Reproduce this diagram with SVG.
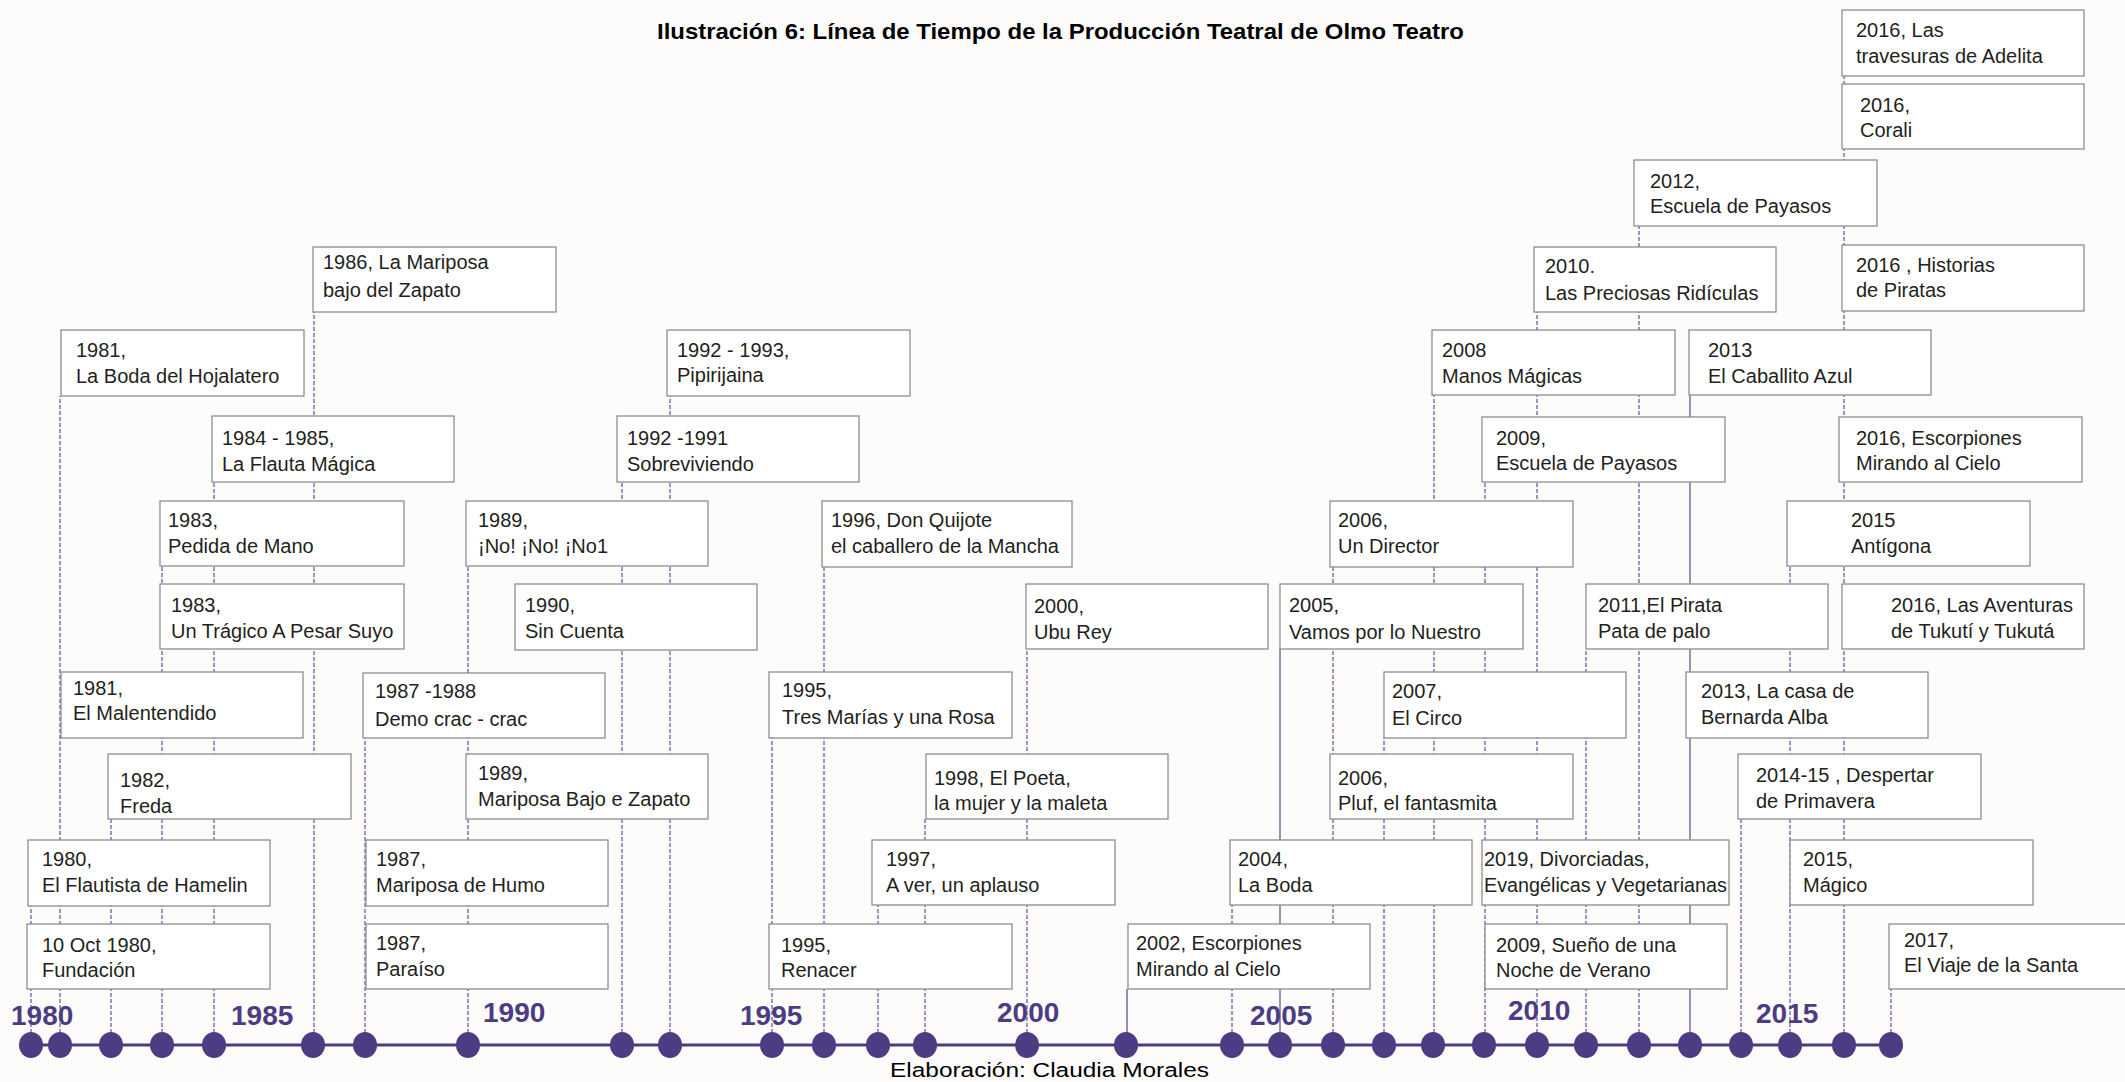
<svg xmlns="http://www.w3.org/2000/svg" width="2125" height="1082" viewBox="0 0 2125 1082">
<style>
.bg{fill:#fdfcfb}
.box{fill:#ffffff;stroke:#8e8e8e;stroke-width:1.3}
.t{font-family:"Liberation Sans",Arial,sans-serif;font-size:20px;fill:#231f20}
.yr{font-family:"Liberation Sans",Arial,sans-serif;font-size:28px;font-weight:bold;fill:#4b3c84}
.dl{stroke:#5a51a6;stroke-width:1.2;stroke-dasharray:4 2;fill:none}
.sl{stroke:#5f5a8e;stroke-width:1.3;fill:none}
.dot{fill:#4b3c84}
.axis{stroke:#4b3c84;stroke-width:3}
.title{font-family:"Liberation Sans",Arial,sans-serif;font-size:22px;font-weight:bold;fill:#000}
.foot{font-family:"Liberation Sans",Arial,sans-serif;font-size:19.5px;fill:#000}
</style>
<rect class="bg" x="0" y="0" width="2125" height="1082"/>
<text class="title" x="657" y="39" textLength="807" lengthAdjust="spacingAndGlyphs">Ilustración 6: Línea de Tiempo de la Producción Teatral de Olmo Teatro</text>

<g id="connectors">
<line class="dl" x1="31" y1="1045" x2="31" y2="906"/>
<line class="dl" x1="60" y1="1045" x2="60" y2="396"/>
<line class="dl" x1="111" y1="1045" x2="111" y2="819"/>
<line class="dl" x1="162" y1="1045" x2="162" y2="566"/>
<line class="dl" x1="214" y1="1045" x2="214" y2="482"/>
<line class="dl" x1="314" y1="1045" x2="314" y2="312"/>
<line class="dl" x1="365" y1="1045" x2="365" y2="738"/>
<line class="dl" x1="468" y1="1045" x2="468" y2="566"/>
<line class="dl" x1="622" y1="1045" x2="622" y2="482"/>
<line class="dl" x1="670" y1="1045" x2="670" y2="396"/>
<line class="dl" x1="772" y1="1045" x2="772" y2="738"/>
<line class="dl" x1="824" y1="1045" x2="824" y2="567"/>
<line class="dl" x1="878" y1="1045" x2="878" y2="905"/>
<line class="dl" x1="925" y1="1045" x2="925" y2="819"/>
<line class="dl" x1="1027" y1="1045" x2="1027" y2="649"/>
<line class="sl" x1="1127" y1="1045" x2="1127" y2="989"/>
<line class="dl" x1="1232" y1="1045" x2="1232" y2="905"/>
<line class="sl" x1="1280" y1="1045" x2="1280" y2="649"/>
<line class="dl" x1="1333" y1="1045" x2="1333" y2="567"/>
<line class="dl" x1="1384" y1="1045" x2="1384" y2="738"/>
<line class="dl" x1="1434" y1="1045" x2="1434" y2="395"/>
<line class="dl" x1="1485" y1="1045" x2="1485" y2="482"/>
<line class="dl" x1="1537" y1="1045" x2="1537" y2="312"/>
<line class="dl" x1="1586" y1="1045" x2="1586" y2="649"/>
<line class="dl" x1="1639" y1="1045" x2="1639" y2="226"/>
<line class="sl" x1="1690" y1="1045" x2="1690" y2="395"/>
<line class="dl" x1="1741" y1="1045" x2="1741" y2="819"/>
<line class="dl" x1="1790" y1="1045" x2="1790" y2="566"/>
<line class="dl" x1="1844" y1="1045" x2="1844" y2="76"/>
<line class="dl" x1="1891" y1="1045" x2="1891" y2="989"/>
</g>

<g id="timeline">
<line class="axis" x1="31" y1="1045" x2="1891" y2="1045"/>
<ellipse class="dot" cx="31" cy="1045" rx="12" ry="13"/>
<ellipse class="dot" cx="60" cy="1045" rx="12" ry="13"/>
<ellipse class="dot" cx="111" cy="1045" rx="12" ry="13"/>
<ellipse class="dot" cx="162" cy="1045" rx="12" ry="13"/>
<ellipse class="dot" cx="214" cy="1045" rx="12" ry="13"/>
<ellipse class="dot" cx="313" cy="1045" rx="12" ry="13"/>
<ellipse class="dot" cx="365" cy="1045" rx="12" ry="13"/>
<ellipse class="dot" cx="468" cy="1045" rx="12" ry="13"/>
<ellipse class="dot" cx="622" cy="1045" rx="12" ry="13"/>
<ellipse class="dot" cx="670" cy="1045" rx="12" ry="13"/>
<ellipse class="dot" cx="772" cy="1045" rx="12" ry="13"/>
<ellipse class="dot" cx="824" cy="1045" rx="12" ry="13"/>
<ellipse class="dot" cx="878" cy="1045" rx="12" ry="13"/>
<ellipse class="dot" cx="925" cy="1045" rx="12" ry="13"/>
<ellipse class="dot" cx="1027" cy="1045" rx="12" ry="13"/>
<ellipse class="dot" cx="1126" cy="1045" rx="12" ry="13"/>
<ellipse class="dot" cx="1232" cy="1045" rx="12" ry="13"/>
<ellipse class="dot" cx="1280" cy="1045" rx="12" ry="13"/>
<ellipse class="dot" cx="1333" cy="1045" rx="12" ry="13"/>
<ellipse class="dot" cx="1384" cy="1045" rx="12" ry="13"/>
<ellipse class="dot" cx="1433" cy="1045" rx="12" ry="13"/>
<ellipse class="dot" cx="1484" cy="1045" rx="12" ry="13"/>
<ellipse class="dot" cx="1537" cy="1045" rx="12" ry="13"/>
<ellipse class="dot" cx="1586" cy="1045" rx="12" ry="13"/>
<ellipse class="dot" cx="1639" cy="1045" rx="12" ry="13"/>
<ellipse class="dot" cx="1690" cy="1045" rx="12" ry="13"/>
<ellipse class="dot" cx="1741" cy="1045" rx="12" ry="13"/>
<ellipse class="dot" cx="1790" cy="1045" rx="12" ry="13"/>
<ellipse class="dot" cx="1844" cy="1045" rx="12" ry="13"/>
<ellipse class="dot" cx="1891" cy="1045" rx="12" ry="13"/>
<text class="yr" x="11" y="1025">1980</text>
<text class="yr" x="231" y="1025">1985</text>
<text class="yr" x="483" y="1022">1990</text>
<text class="yr" x="740" y="1025">1995</text>
<text class="yr" x="997" y="1022">2000</text>
<text class="yr" x="1250" y="1025">2005</text>
<text class="yr" x="1508" y="1020">2010</text>
<text class="yr" x="1756" y="1023">2015</text>
</g>

<g id="n1986"><rect class="box" x="313" y="247" width="243" height="65"/><text class="t" x="323" y="269">1986,  La Mariposa</text><text class="t" x="323" y="297">bajo del Zapato</text></g>
<g id="n1981a"><rect class="box" x="61" y="330" width="243" height="66"/><text class="t" x="76" y="357">1981,</text><text class="t" x="76" y="383">La Boda del Hojalatero</text></g>
<g id="n1984"><rect class="box" x="212" y="416" width="242" height="66"/><text class="t" x="222" y="445">1984 - 1985,</text><text class="t" x="222" y="471">La Flauta Mágica</text></g>
<g id="n1983a"><rect class="box" x="160" y="501" width="244" height="65"/><text class="t" x="168" y="527">1983,</text><text class="t" x="168" y="553">Pedida de Mano</text></g>
<g id="n1983b"><rect class="box" x="160" y="584" width="244" height="65"/><text class="t" x="171" y="612">1983,</text><text class="t" x="171" y="638">Un Trágico A Pesar Suyo</text></g>
<g id="n1981b"><rect class="box" x="61" y="672" width="242" height="66"/><text class="t" x="73" y="695">1981,</text><text class="t" x="73" y="720">El Malentendido</text></g>
<g id="n1982"><rect class="box" x="108" y="754" width="243" height="65"/><text class="t" x="120" y="787">1982,</text><text class="t" x="120" y="813">Freda</text></g>
<g id="n1980a"><rect class="box" x="28" y="840" width="242" height="66"/><text class="t" x="42" y="866">1980,</text><text class="t" x="42" y="892">El Flautista de Hamelin</text></g>
<g id="n1980b"><rect class="box" x="27" y="924" width="243" height="65"/><text class="t" x="42" y="952">10 Oct 1980,</text><text class="t" x="42" y="977">Fundación</text></g>
<g id="n1987a"><rect class="box" x="363" y="673" width="242" height="65"/><text class="t" x="375" y="698">1987 -1988</text><text class="t" x="375" y="726">Demo crac - crac</text></g>
<g id="n1987b"><rect class="box" x="366" y="840" width="242" height="66"/><text class="t" x="376" y="866">1987,</text><text class="t" x="376" y="892">Mariposa de Humo</text></g>
<g id="n1987c"><rect class="box" x="366" y="924" width="242" height="65"/><text class="t" x="376" y="950">1987,</text><text class="t" x="376" y="976">Paraíso</text></g>
<g id="n1989a"><rect class="box" x="466" y="754" width="242" height="65"/><text class="t" x="478" y="780">1989,</text><text class="t" x="478" y="806">Mariposa Bajo e Zapato</text></g>
<g id="n1989b"><rect class="box" x="466" y="501" width="242" height="65"/><text class="t" x="478" y="527">1989,</text><text class="t" x="478" y="553">¡No! ¡No! ¡No1</text></g>
<g id="n1990"><rect class="box" x="515" y="584" width="242" height="66"/><text class="t" x="525" y="612">1990,</text><text class="t" x="525" y="638">Sin Cuenta</text></g>
<g id="n1992a"><rect class="box" x="617" y="416" width="242" height="66"/><text class="t" x="627" y="445">1992 -1991</text><text class="t" x="627" y="471">Sobreviviendo</text></g>
<g id="n1992b"><rect class="box" x="667" y="330" width="243" height="66"/><text class="t" x="677" y="357">1992 - 1993,</text><text class="t" x="677" y="382">Pipirijaina</text></g>
<g id="n1996"><rect class="box" x="822" y="501" width="250" height="66"/><text class="t" x="831" y="527">1996, Don Quijote</text><text class="t" x="831" y="553">el caballero de la Mancha</text></g>
<g id="n1995a"><rect class="box" x="769" y="672" width="243" height="66"/><text class="t" x="782" y="697">1995,</text><text class="t" x="782" y="724">Tres Marías y una Rosa</text></g>
<g id="n1995b"><rect class="box" x="769" y="924" width="243" height="65"/><text class="t" x="781" y="952">1995,</text><text class="t" x="781" y="977">Renacer</text></g>
<g id="n2000"><rect class="box" x="1026" y="584" width="242" height="65"/><text class="t" x="1034" y="613">2000,</text><text class="t" x="1034" y="639">Ubu Rey</text></g>
<g id="n1998"><rect class="box" x="926" y="754" width="242" height="65"/><text class="t" x="934" y="785">1998, El Poeta,</text><text class="t" x="934" y="810">la mujer y la maleta</text></g>
<g id="n1997"><rect class="box" x="872" y="840" width="243" height="65"/><text class="t" x="886" y="866">1997,</text><text class="t" x="886" y="892">A ver, un aplauso</text></g>
<g id="n2002"><rect class="box" x="1128" y="924" width="242" height="65"/><text class="t" x="1136" y="950">2002, Escorpiones</text><text class="t" x="1136" y="976">Mirando al Cielo</text></g>
<g id="n2004"><rect class="box" x="1230" y="840" width="242" height="65"/><text class="t" x="1238" y="866">2004,</text><text class="t" x="1238" y="892">La Boda</text></g>
<g id="n2006a"><rect class="box" x="1330" y="501" width="243" height="66"/><text class="t" x="1338" y="527">2006,</text><text class="t" x="1338" y="553">Un Director</text></g>
<g id="n2005"><rect class="box" x="1280" y="584" width="243" height="65"/><text class="t" x="1289" y="612">2005,</text><text class="t" x="1289" y="639">Vamos por lo Nuestro</text></g>
<g id="n2007"><rect class="box" x="1384" y="672" width="242" height="66"/><text class="t" x="1392" y="698">2007,</text><text class="t" x="1392" y="725">El Circo</text></g>
<g id="n2006b"><rect class="box" x="1330" y="754" width="243" height="65"/><text class="t" x="1338" y="785">2006,</text><text class="t" x="1338" y="810">Pluf, el fantasmita</text></g>
<g id="n2008"><rect class="box" x="1432" y="330" width="243" height="65"/><text class="t" x="1442" y="357">2008</text><text class="t" x="1442" y="383">Manos Mágicas</text></g>
<g id="n2010"><rect class="box" x="1534" y="247" width="242" height="65"/><text class="t" x="1545" y="273">2010.</text><text class="t" x="1545" y="300">Las Preciosas Ridículas</text></g>
<g id="n2012"><rect class="box" x="1634" y="160" width="243" height="66"/><text class="t" x="1650" y="188">2012,</text><text class="t" x="1650" y="213">Escuela de Payasos</text></g>
<g id="n2016a"><rect class="box" x="1842" y="10" width="242" height="66"/><text class="t" x="1856" y="37">2016,  Las</text><text class="t" x="1856" y="63">travesuras de Adelita</text></g>
<g id="n2016b"><rect class="box" x="1842" y="84" width="242" height="65"/><text class="t" x="1860" y="112">2016,</text><text class="t" x="1860" y="137">Corali</text></g>
<g id="n2016c"><rect class="box" x="1842" y="245" width="242" height="66"/><text class="t" x="1856" y="272">2016 ,  Historias</text><text class="t" x="1856" y="297">de Piratas</text></g>
<g id="n2013a"><rect class="box" x="1689" y="330" width="242" height="65"/><text class="t" x="1708" y="357">2013</text><text class="t" x="1708" y="383">El Caballito Azul</text></g>
<g id="n2009a"><rect class="box" x="1482" y="417" width="243" height="65"/><text class="t" x="1496" y="445">2009,</text><text class="t" x="1496" y="470">Escuela de Payasos</text></g>
<g id="n2016d"><rect class="box" x="1839" y="417" width="243" height="65"/><text class="t" x="1856" y="445">2016, Escorpiones</text><text class="t" x="1856" y="470">Mirando al Cielo</text></g>
<g id="n2015a"><rect class="box" x="1787" y="501" width="243" height="65"/><text class="t" x="1851" y="527">2015</text><text class="t" x="1851" y="553">Antígona</text></g>
<g id="n2011"><rect class="box" x="1586" y="584" width="242" height="65"/><text class="t" x="1598" y="612">2011,El Pirata</text><text class="t" x="1598" y="638">Pata de palo</text></g>
<g id="n2016e"><rect class="box" x="1842" y="584" width="242" height="65"/><text class="t" x="1891" y="612">2016, Las Aventuras</text><text class="t" x="1891" y="638">de Tukutí y Tukutá</text></g>
<g id="n2013b"><rect class="box" x="1686" y="672" width="242" height="66"/><text class="t" x="1701" y="698">2013, La casa de</text><text class="t" x="1701" y="724">Bernarda Alba</text></g>
<g id="n2014"><rect class="box" x="1738" y="754" width="243" height="65"/><text class="t" x="1756" y="782">2014-15 ,  Despertar</text><text class="t" x="1756" y="808">de Primavera</text></g>
<g id="n2015b"><rect class="box" x="1790" y="840" width="243" height="65"/><text class="t" x="1803" y="866">2015,</text><text class="t" x="1803" y="892">Mágico</text></g>
<g id="n2019"><rect class="box" x="1482" y="840" width="247" height="65"/><text class="t" x="1484" y="866">2019, Divorciadas,</text><text class="t" x="1484" y="892" textLength="243" lengthAdjust="spacingAndGlyphs">Evangélicas y Vegetarianas</text></g>
<g id="n2009b"><rect class="box" x="1485" y="924" width="242" height="65"/><text class="t" x="1496" y="952">2009, Sueño de una</text><text class="t" x="1496" y="977">Noche de Verano</text></g>
<g id="n2017"><rect class="box" x="1889" y="924" width="250" height="65"/><text class="t" x="1904" y="947">2017,</text><text class="t" x="1904" y="972">El Viaje de la Santa</text></g>

<text class="foot" x="890" y="1077" textLength="319" lengthAdjust="spacingAndGlyphs">Elaboración: Claudia Morales</text>
</svg>
